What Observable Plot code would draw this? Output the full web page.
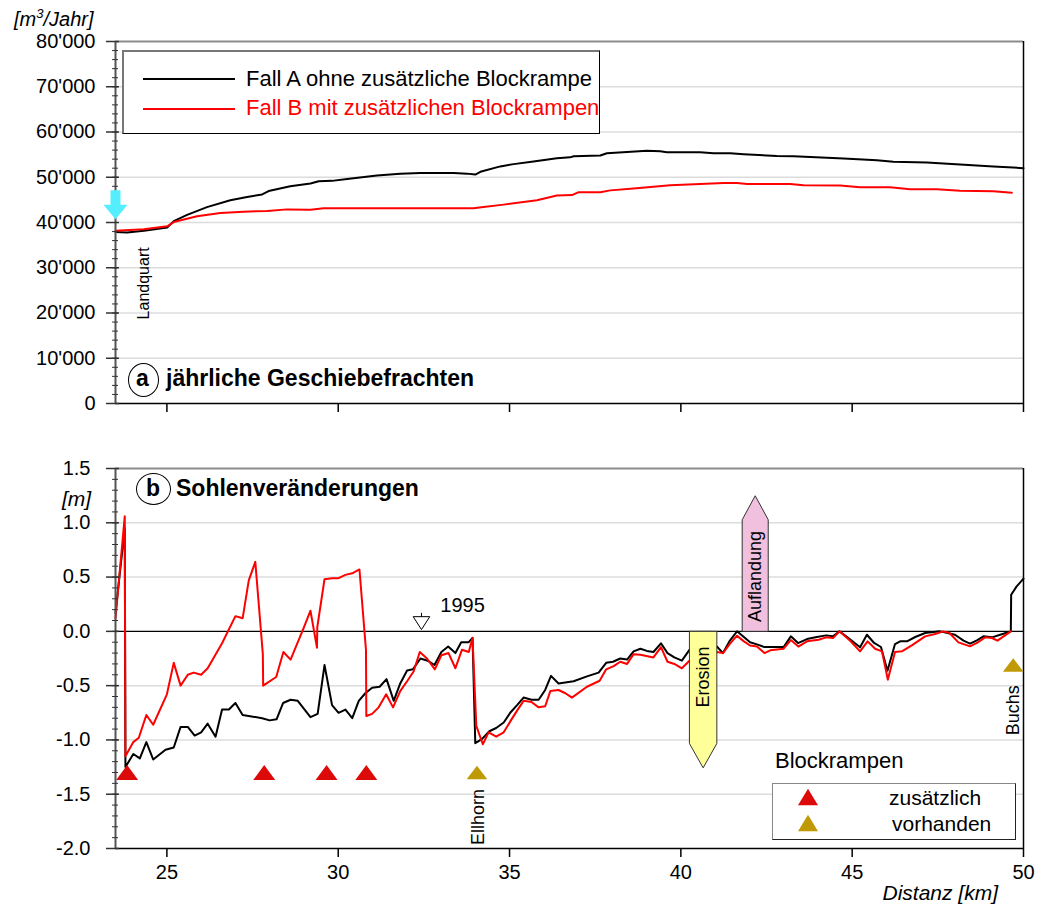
<!DOCTYPE html>
<html>
<head>
<meta charset="utf-8">
<script src="https://cdn.jsdelivr.net/npm/d3@7"></script>
<script src="https://cdn.jsdelivr.net/npm/@observablehq/plot@0.6"></script>
<style>
  html, body { margin: 0; padding: 0; background: #fff; }
  #wrap { position: relative; width: 1046px; height: 905px; overflow: hidden; font-family: "Liberation Sans", Arial, Helvetica, sans-serif; color: #000; }
  #wrap > svg, #wrap > figure { position: absolute; left: 0; margin: 0; }
  .t { position: absolute; white-space: nowrap; line-height: 1; }
</style>
</head>
<body>
<div id="wrap"></div>
<script>
// ---------- DATA ----------
// Panel a: annual bedload (m3/Jahr)
const freightA_km  = [23.50, 23.84, 24.33, 25.01, 25.20, 25.59, 26.17, 26.85, 27.34, 27.78, 27.97, 28.60, 29.19, 29.43, 29.82, 30.26, 31.13, 31.81, 32.40, 33.37, 33.76, 34.00, 34.15, 34.73, 35.12, 35.70, 36.38, 36.77, 36.87, 37.65, 37.84, 38.43, 39.01, 39.40, 39.59, 40.56, 40.95, 41.44, 41.83, 42.80, 43.29, 44.75, 45.72, 46.20, 47.18, 48.15, 49.12, 50.00];
const freightA_val = [37900, 37800, 38200, 38900, 40300, 41700, 43400, 44900, 45650, 46200, 46950, 48000, 48600, 49100, 49200, 49600, 50400, 50750, 50950, 50950, 50800, 50600, 51200, 52400, 52900, 53500, 54200, 54400, 54650, 54800, 55300, 55600, 55830, 55750, 55550, 55550, 55300, 55300, 55100, 54700, 54650, 54150, 53750, 53450, 53250, 52800, 52400, 52000];
const freightB_km  = [23.50, 24.33, 25.01, 25.20, 25.88, 26.56, 27.24, 27.93, 28.51, 29.19, 29.58, 33.95, 34.24, 34.83, 35.80, 36.38, 36.82, 37.02, 37.65, 37.94, 38.62, 39.69, 40.56, 41.25, 41.64, 41.93, 43.19, 43.58, 44.65, 45.23, 46.11, 46.69, 47.47, 48.15, 49.12, 49.66];
const freightB_val = [38200, 38500, 39150, 40100, 41400, 42100, 42400, 42550, 42900, 42800, 43150, 43150, 43450, 43950, 44900, 45950, 46050, 46700, 46700, 47100, 47500, 48250, 48500, 48750, 48750, 48500, 48500, 48250, 48150, 47800, 47800, 47350, 47350, 47000, 46900, 46600];

// Panel b: bed level changes (m)
const bedA_km = [23.50, 23.77, 23.79, 24.02, 24.21, 24.40, 24.60, 24.96, 25.20, 25.40, 25.61, 25.81, 26.00, 26.19, 26.42, 26.61, 26.81, 27.00, 27.21, 27.78, 28.00, 28.20, 28.39, 28.61, 28.82, 29.19, 29.40, 29.60, 29.82, 30.01, 30.21, 30.41, 30.60, 30.79, 30.99, 31.21, 31.41, 31.62, 31.81, 32.01, 32.18, 32.40, 32.61, 32.81, 33.01, 33.21, 33.42, 33.59, 33.81, 33.92, 34.00, 34.20, 34.41, 34.61, 34.83, 35.02, 35.22, 35.41, 35.64, 35.85, 36.04, 36.21, 36.43, 36.87, 37.26, 37.60, 37.82, 38.02, 38.23, 38.43, 38.62, 38.82, 39.01, 39.20, 39.42, 39.61, 39.81, 40.03, 40.25, 41.05, 41.23, 41.42, 41.64, 41.83, 42.02, 42.22, 42.44, 43.00, 43.21, 43.42, 43.68, 43.97, 44.24, 44.44, 44.63, 44.89, 45.23, 45.43, 45.64, 45.84, 46.03, 46.25, 46.40, 46.60, 46.84, 47.13, 47.37, 47.57, 48.00, 48.25, 48.44, 48.64, 48.83, 49.08, 49.32, 49.63, 49.64, 49.80, 50.00];
const bedA_m  = [0.17, 0.95, -1.25, -1.13, -1.17, -1.02, -1.18, -1.09, -1.07, -0.88, -0.88, -0.96, -0.93, -0.85, -0.97, -0.72, -0.72, -0.66, -0.77, -0.80, -0.82, -0.81, -0.66, -0.63, -0.64, -0.79, -0.76, -0.31, -0.68, -0.75, -0.72, -0.80, -0.64, -0.57, -0.52, -0.51, -0.44, -0.64, -0.48, -0.36, -0.35, -0.25, -0.27, -0.31, -0.19, -0.14, -0.20, -0.10, -0.10, -0.06, -1.03, -0.99, -0.92, -0.89, -0.84, -0.75, -0.68, -0.61, -0.63, -0.63, -0.54, -0.41, -0.48, -0.46, -0.415, -0.38, -0.29, -0.28, -0.25, -0.26, -0.185, -0.16, -0.18, -0.19, -0.11, -0.20, -0.24, -0.27, -0.17, -0.14, -0.20, -0.09, 0.00, -0.05, -0.10, -0.12, -0.145, -0.145, -0.046, -0.108, -0.071, -0.052, -0.037, -0.046, 0.0, -0.061, -0.147, -0.031, -0.107, -0.144, -0.362, -0.117, -0.092, -0.092, -0.052, -0.015, -0.006, 0.0, -0.031, -0.086, -0.113, -0.083, -0.046, -0.055, -0.031, 0.0, 0.337, 0.414, 0.485];
const bedB_km = [23.50, 23.77, 23.79, 24.02, 24.18, 24.40, 24.60, 25.00, 25.20, 25.40, 25.61, 25.78, 26.00, 26.19, 26.61, 27.00, 27.21, 27.39, 27.58, 27.80, 27.81, 28.19, 28.40, 28.61, 28.99, 29.19, 29.38, 29.39, 29.60, 29.82, 30.01, 30.21, 30.41, 30.62, 30.81, 30.82, 30.99, 31.18, 31.40, 31.60, 31.81, 32.01, 32.20, 32.38, 32.59, 32.82, 33.01, 33.22, 33.42, 33.61, 33.81, 33.92, 34.03, 34.22, 34.39, 34.61, 34.83, 35.04, 35.22, 35.41, 35.64, 35.85, 36.04, 36.19, 36.43, 36.63, 36.82, 37.26, 37.63, 37.82, 38.04, 38.23, 38.43, 38.62, 38.82, 39.20, 39.42, 39.61, 39.81, 40.03, 40.25, 41.05, 41.23, 41.44, 41.64, 41.83, 42.02, 42.22, 42.44, 42.61, 43.00, 43.21, 43.43, 43.68, 44.02, 44.24, 44.44, 44.63, 44.94, 45.23, 45.45, 45.67, 45.87, 46.04, 46.25, 46.45, 46.74, 47.13, 47.42, 47.66, 47.84, 48.10, 48.44, 48.64, 48.88, 49.08, 49.24, 49.63];
const bedB_m  = [0.12, 1.06, -1.15, -1.02, -0.98, -0.77, -0.86, -0.58, -0.29, -0.50, -0.40, -0.38, -0.40, -0.34, -0.11, 0.14, 0.12, 0.47, 0.64, -0.21, -0.50, -0.42, -0.19, -0.26, 0.03, 0.19, -0.15, 0.04, 0.48, 0.49, 0.49, 0.52, 0.535, 0.57, -0.17, -0.78, -0.76, -0.70, -0.58, -0.70, -0.55, -0.46, -0.37, -0.19, -0.25, -0.35, -0.22, -0.20, -0.34, -0.17, -0.19, -0.06, -0.87, -1.04, -0.93, -0.97, -0.93, -0.82, -0.73, -0.64, -0.65, -0.70, -0.69, -0.55, -0.54, -0.57, -0.61, -0.51, -0.455, -0.35, -0.32, -0.28, -0.30, -0.21, -0.215, -0.24, -0.145, -0.28, -0.30, -0.34, -0.27, -0.19, -0.20, -0.11, -0.04, -0.09, -0.13, -0.14, -0.20, -0.175, -0.16, -0.08, -0.14, -0.092, -0.077, -0.055, -0.061, 0.0, -0.086, -0.184, -0.092, -0.16, -0.184, -0.445, -0.19, -0.184, -0.129, -0.046, -0.025, 0.0, -0.015, -0.101, -0.138, -0.107, -0.055, -0.061, -0.086, 0.0];

// Block ramps (km)
const rampsAdded_km = [23.84, 27.84, 29.66, 30.82];
const rampsExisting_km = [34.05, 49.70];
const rampsExisting_m  = [-1.30, -0.31];

// Tick values
const xTicks = [25, 30, 35, 40, 45, 50];
const yTicksA = [0, 10000, 20000, 30000, 40000, 50000, 60000, 70000, 80000];
const yTicksB = [-2.0, -1.5, -1.0, -0.5, 0.0, 0.5, 1.0, 1.5];

// Labels
const legendA = ["Fall A ohne zusätzliche Blockrampe", "Fall B mit zusätzlichen Blockrampen"];
const legendB = ["zusätzlich", "vorhanden"];

// ---------- BUILD ----------
const FONT = "'Liberation Sans', Arial, Helvetica, sans-serif";
const RED = "#ff0000", TRI_RED = "#dd0a0a", GOLD = "#bf9a06";
const zip = (xs, ys) => xs.map((x, i) => ({km: x, v: ys[i]}));
const seriesFA = zip(freightA_km, freightA_val);
const seriesFB = zip(freightB_km, freightB_val);
const seriesBA = zip(bedA_km, bedA_m);
const seriesBB = zip(bedB_km, bedB_m);
const fmtApos = d => d3.format(",")(d).replace(/,/g, "'");
const fmtM = d => d3.format(".1f")(d).replace("\u2212", "-");
const minorA = d3.range(0, 80001, 2000);
const minorB = d3.range(-20, 16, 1).map(d => d / 10);
const empty = () => "";

// custom symbols (pixel geometry)
const flatTri = {draw(c) { c.moveTo(0, -7.5); c.lineTo(11, 7.5); c.lineTo(-11, 7.5); c.closePath(); }};
const smallTri = {draw(c) { c.moveTo(0, -6.7); c.lineTo(10.3, 6.7); c.lineTo(-10.3, 6.7); c.closePath(); }};
const cyanArrow = {draw(c) { c.moveTo(-5, -14.5); c.lineTo(5, -14.5); c.lineTo(5, 0); c.lineTo(12, 0); c.lineTo(0, 14.5); c.lineTo(-12, 0); c.lineTo(-5, 0); c.closePath(); }};
const gauge = {draw(c) { c.moveTo(-8.3, -14.7); c.lineTo(8.3, -14.7); c.lineTo(0, -1.8); c.closePath(); c.moveTo(0, -14.7); c.lineTo(0, -18.5); }};

// annotation shapes (data units)
const erosionShape = zip([40.25, 41.05, 41.05, 40.65, 40.25, 40.25], [0, 0, -1.033, -1.257, -1.033, 0]);
const auflandShape = zip([41.79, 42.55, 42.55, 42.17, 41.79, 41.79], [0, 0, 1.028, 1.249, 1.028, 0]);

const chartA = Plot.plot({
  width: 1046, height: 420,
  marginLeft: 115, marginRight: 23, marginTop: 41, marginBottom: 17,
  style: {fontFamily: FONT, fontSize: "20px", color: "#000", background: "transparent", overflow: "visible"},
  x: {domain: [23.5, 50], label: null},
  y: {domain: [0, 80000], label: null},
  marks: [
    Plot.ruleY(yTicksA.slice(1, -1), {stroke: "#dcdcdc", strokeWidth: 1.5}),
    Plot.ruleY([80000], {stroke: "#8c8c8c", strokeWidth: 2}),
    Plot.ruleX([50], {stroke: "#000", strokeWidth: 1.5}),
    Plot.line(seriesFA, {x: "km", y: "v", stroke: "#000", strokeWidth: 2}),
    Plot.line(seriesFB, {x: "km", y: "v", stroke: RED, strokeWidth: 2}),
    Plot.text([{km: 24.32, v: 26550, t: "Landquart"}], {x: "km", y: "v", text: "t", rotate: -90, fontSize: 16, fill: "#000"}),
    Plot.ruleY([0], {stroke: "#000", strokeWidth: 1.5}),
    Plot.ruleX([23.5], {stroke: "#555", strokeWidth: 2}),
    Plot.axisX({ticks: xTicks, tickSize: 9, tickFormat: empty, stroke: "#000", strokeWidth: 1.5}),
    Plot.axisY({ticks: yTicksA, tickSize: 0, tickPadding: 20, tickFormat: fmtApos, fontSize: 20}),
    Plot.axisY({ticks: yTicksA, tickSize: 13, dx: 4, tickFormat: empty, stroke: "#333", strokeWidth: 1.5}),
    Plot.axisY({ticks: minorA, tickSize: 6, dx: 3, tickFormat: empty, stroke: "#333", strokeWidth: 1}),
    Plot.dot([{km: 23.5, v: 43900}], {x: "km", y: "v", symbol: cyanArrow, fill: "#55eeff", stroke: "none"})
  ]
});

const chartB = Plot.plot({
  width: 1046, height: 485,
  marginLeft: 115, marginRight: 23, marginTop: 48, marginBottom: 57,
  style: {fontFamily: FONT, fontSize: "20px", color: "#000", background: "transparent", overflow: "visible"},
  x: {domain: [23.5, 50], label: null},
  y: {domain: [-2, 1.5], label: null},
  marks: [
    Plot.ruleY([-1.5, -1.0, -0.5, 0.5, 1.0], {stroke: "#dcdcdc", strokeWidth: 1.5}),
    Plot.ruleY([1.5], {stroke: "#8c8c8c", strokeWidth: 2}),
    Plot.ruleX([50], {stroke: "#000", strokeWidth: 1.5}),
    Plot.ruleY([0], {stroke: "#000", strokeWidth: 1.3}),
    Plot.line(seriesBA, {x: "km", y: "v", stroke: "#000", strokeWidth: 2}),
    Plot.line(seriesBB, {x: "km", y: "v", stroke: RED, strokeWidth: 2}),
    Plot.line(erosionShape, {x: "km", y: "v", fill: "#ffff99", stroke: "#333", strokeWidth: 1}),
    Plot.line(auflandShape, {x: "km", y: "v", fill: "#f0c0de", stroke: "#333", strokeWidth: 1}),
    Plot.text([{km: 40.66, v: -0.42, t: "Erosion"}, {km: 42.17, v: 0.505, t: "Auflandung"}], {x: "km", y: "v", text: "t", rotate: -90, fontSize: 18, fill: "#000"}),
    Plot.text([{km: 34.09, v: -1.71, t: "Ellhorn"}, {km: 49.70, v: -0.726, t: "Buchs"}], {x: "km", y: "v", text: "t", rotate: -90, fontSize: 18, fill: "#000"}),
    Plot.text([{km: 32.98, v: 0.237, t: "1995"}], {x: "km", y: "v", text: "t", textAnchor: "start", fontSize: 20, fill: "#000"}),
    Plot.dot([{km: 32.43, v: 0}], {x: "km", y: "v", symbol: gauge, fill: "#fff", stroke: "#000", strokeWidth: 1}),
    Plot.dot(rampsAdded_km, {x: d => d, y: () => -1.30, symbol: flatTri, fill: TRI_RED, stroke: "none"}),
    Plot.dot(rampsExisting_km.map((k, i) => ({km: k, v: rampsExisting_m[i]})), {x: "km", y: "v", symbol: smallTri, fill: GOLD, stroke: "none"}),
    Plot.ruleY([-2], {stroke: "#000", strokeWidth: 1.5}),
    Plot.ruleX([23.5], {stroke: "#555", strokeWidth: 2}),
    Plot.axisX({ticks: xTicks, tickSize: 9, tickPadding: 7, tickFormat: d => String(d), fontSize: 20, stroke: "#000", strokeWidth: 1.5}),
    Plot.axisY({ticks: yTicksB, tickSize: 0, tickPadding: 25, tickFormat: fmtM, fontSize: 20}),
    Plot.axisY({ticks: yTicksB, tickSize: 13, dx: 4, tickFormat: empty, stroke: "#333", strokeWidth: 1.5}),
    Plot.axisY({ticks: minorB, tickSize: 6, dx: 3, tickFormat: empty, stroke: "#333", strokeWidth: 1})
  ]
});

const wrap = document.getElementById("wrap");
chartA.style.top = "0px";
chartB.style.top = "420px";
wrap.appendChild(chartA);
wrap.appendChild(chartB);

function addText(html, css) {
  const d = document.createElement("div");
  d.className = "t";
  d.innerHTML = html;
  Object.assign(d.style, css);
  wrap.appendChild(d);
  return d;
}
function addBox(css) {
  const d = document.createElement("div");
  d.style.position = "absolute";
  d.style.boxSizing = "border-box";
  Object.assign(d.style, css);
  wrap.appendChild(d);
  return d;
}

// Units
addText('[m<span style="font-size:13px;position:relative;top:-8px">3</span>/Jahr]', {left: "14px", top: "9px", fontSize: "20px", fontStyle: "italic"});
addText('[m]', {left: "62px", top: "488px", fontSize: "21px", fontStyle: "italic"});
addText('Distanz [km]', {right: "48px", top: "882px", fontSize: "21px", fontStyle: "italic"});

// Panel titles
addBox({left: "128px", top: "363px", width: "31px", height: "34px", border: "1.5px solid #000", borderRadius: "50%"});
addText('<b>a</b>', {left: "136px", top: "367px", fontSize: "23px"});
addText('<b>jährliche Geschiebefrachten</b>', {left: "166px", top: "367px", fontSize: "23px"});
addBox({left: "136px", top: "473px", width: "35px", height: "32px", border: "1.5px solid #000", borderRadius: "50%"});
addText('<b>b</b>', {left: "146px", top: "477px", fontSize: "23px"});
addText('<b>Sohlenveränderungen</b>', {left: "176px", top: "477px", fontSize: "23px"});

// Legend panel a
addBox({left: "122px", top: "50px", width: "478px", height: "84px", background: "#fff", borderTop: "2px solid #777", borderLeft: "2px solid #777", borderRight: "1.5px solid #000", borderBottom: "1.5px solid #000"});
addBox({left: "143px", top: "78px", width: "92px", height: "2px", background: "#000"});
addBox({left: "143px", top: "107.5px", width: "92px", height: "2px", background: RED});
addText(legendA[0], {left: "246px", top: "67.5px", fontSize: "22px", color: "#000"});
addText(legendA[1], {left: "246px", top: "97px", fontSize: "22px", color: RED});

// Legend panel b
addText('Blockrampen', {left: "775px", top: "750px", fontSize: "22px"});
addBox({left: "772px", top: "783px", width: "244px", height: "57px", background: "#fff", borderTop: "1.5px solid #888", borderLeft: "1.5px solid #888", borderRight: "1.5px solid #222", borderBottom: "1.5px solid #222"});
const ns = "http://www.w3.org/2000/svg";
function legendTri(cx, cy, color) {
  const s = document.createElementNS(ns, "svg");
  s.setAttribute("width", 24); s.setAttribute("height", 20);
  s.style.position = "absolute"; s.style.left = (cx - 12) + "px"; s.style.top = (cy - 10) + "px";
  const p = document.createElementNS(ns, "path");
  p.setAttribute("d", "M12,1.7L22,18.3L2,18.3Z");
  p.setAttribute("fill", color);
  s.appendChild(p);
  wrap.appendChild(s);
}
legendTri(808, 796.5, TRI_RED);
legendTri(808, 822.5, GOLD);
addText(legendB[0], {left: "889px", top: "786.5px", fontSize: "21px"});
addText(legendB[1], {left: "892px", top: "813px", fontSize: "21px"});
</script>
</body>
</html>
